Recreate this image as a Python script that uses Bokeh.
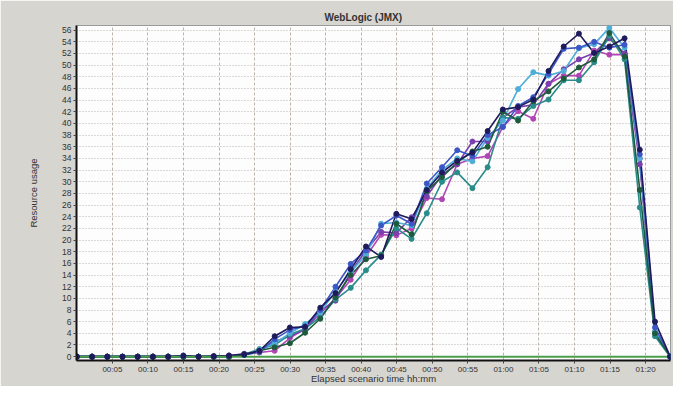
from bokeh.plotting import figure
from bokeh.models import FixedTicker, Range1d
from bokeh.embed import file_html
from bokeh.resources import INLINE

# Elapsed time of each sample, minutes
elapsed_min = [0, 2.14, 4.28, 6.42, 8.56, 10.7, 12.84, 14.98, 17.12, 19.26,
               21.4, 23.54, 25.68, 27.82, 29.96, 32.1, 34.24, 36.38, 38.52, 40.66,
               42.8, 44.94, 47.08, 49.22, 51.36, 53.5, 55.64, 57.78, 59.92, 62.06,
               64.2, 66.34, 68.48, 70.62, 72.76, 74.9, 77.04, 79.18, 81.32, 83.46]

magenta = [0, 0, 0, 0, 0, 0, 0, 0, 0, 0, 0,
           0.4, 0.7, 1.0, 3.2, 4.8, 7.4, 10.0, 13.2, 17.2, 20.9, 20.8, 22.0, 27.2, 27.0,
           33.0, 34.0, 34.4, 39.4, 42.1, 40.8, 46.8, 48.2, 48.2, 52.5, 51.8, 51.8, 34.0, 4.0, 0]
purple = [0, 0, 0, 0, 0, 0, 0, 0, 0, 0,
          0.2, 0.5, 0.9, 2.6, 3.5, 4.6, 7.9, 9.6, 14.5, 18.2, 21.4, 21.2, 23.9, 27.5, 31.2,
          33.0, 36.9, 36.9, 41.0, 42.8, 43.2, 46.8, 49.3, 51.0, 52.1, 54.6, 52.0, 33.0, 4.3, 0]
teal = [0, 0, 0, 0, 0, 0, 0, 0, 0, 0, 0,
        0.4, 1.3, 2.0, 3.8, 4.8, 6.8, 9.8, 11.8, 14.8, 17.5, 22.0, 20.2, 24.6, 30.0,
        31.6, 28.9, 32.5, 41.0, 40.8, 43.0, 44.1, 47.4, 47.4, 50.5, 55.0, 51.0, 25.6, 3.5, 0]
sky = [0, 0, 0, 0, 0, 0, 0, 0, 0, 0, 0,
       0.3, 1.2, 2.3, 4.0, 5.6, 7.6, 11.2, 14.5, 17.5, 22.8, 23.0, 22.5, 28.8, 32.0,
       34.0, 33.5, 37.5, 40.5, 45.9, 48.8, 48.2, 49.0, 52.9, 53.6, 56.4, 53.0, 34.0, 4.3, 0]
blue = [0, 0, 0, 0, 0, 0, 0, 0, 0, 0, 0,
        0.3, 0.8, 3.0, 4.6, 5.2, 8.0, 12.0, 15.9, 18.2, 22.5, 24.2, 22.8, 29.7, 32.5,
        35.4, 34.4, 38.0, 39.4, 43.0, 44.5, 48.5, 52.8, 53.0, 54.0, 53.0, 53.5, 34.7, 5.0, 0]
dark_green = [0, 0, 0, 0, 0, 0, 0, 0, 0, 0, 0,
              0.3, 1.0, 1.6, 2.3, 4.1, 6.5, 10.2, 14.0, 16.7, 17.3, 22.8, 21.0, 28.4, 30.8,
              33.3, 35.2, 36.0, 42.0, 40.5, 43.8, 45.5, 47.7, 49.6, 51.0, 55.5, 51.5, 28.6, 4.0, 0]
navy = [0, 0, 0, 0, 0, 0, 0, 0.2, 0, 0.1,
        0.2, 0.4, 1.0, 3.5, 5.0, 5.1, 8.4, 10.9, 15.0, 18.9, 17.1, 24.5, 23.6, 28.6, 31.6,
        33.6, 35.0, 38.7, 42.4, 42.8, 44.1, 49.0, 53.2, 55.4, 52.1, 53.2, 54.6, 35.5, 6.0, 0]
green_base = [0, 0, 0, 0, 0, 0, 0, 0, 0, 0, 0, 0, 0, 0, 0, 0, 0, 0, 0, 0,
              0, 0, 0, 0, 0, 0, 0, 0, 0, 0, 0, 0, 0, 0, 0, 0, 0, 0, 0, 0]

x_tick_minutes = [5, 10, 15, 20, 25, 30, 35, 40, 45, 50, 55, 60, 65, 70, 75, 80]
x_tick_labels = ["00:05", "00:10", "00:15", "00:20", "00:25", "00:30", "00:35", "00:40",
                 "00:45", "00:50", "00:55", "01:00", "01:05", "01:10", "01:15", "01:20"]
y_ticks = [0, 2, 4, 6, 8, 10, 12, 14, 16, 18, 20, 22, 24, 26, 28, 30, 32, 34, 36, 38,
           40, 42, 44, 46, 48, 50, 52, 54, 56]

series = [
    (magenta, "#b145b5"),
    (purple, "#7a3fae"),
    (teal, "#2a8b8b"),
    (sky, "#4eaed8"),
    (blue, "#3b56c6"),
    (dark_green, "#1e5a3c"),
    (navy, "#1e1a5c"),
]

FONT = "Liberation Sans"

p = figure(width=673, height=386, output_backend="svg", toolbar_location=None,
           x_range=Range1d(-0.05, 83.5), y_range=Range1d(-0.66, 56.8),
           min_border_left=76, min_border_right=3, min_border_top=25, min_border_bottom=24,
           title="WebLogic (JMX)")

p.background_fill_color = "#fdfdfd"
p.border_fill_color = "#d7d5d0"
p.outline_line_color = "#9a9a9a"
p.outline_line_width = 1

p.title.text_font = FONT
p.title.text_font_size = "10px"
p.title.text_font_style = "bold"
p.title.text_color = "#333333"
p.title.align = "left"
p.title.offset = 248
p.title.standoff = 5

p.xaxis.ticker = FixedTicker(ticks=x_tick_minutes)
p.xaxis.major_label_overrides = {m: lab for m, lab in zip(x_tick_minutes, x_tick_labels)}
p.yaxis.ticker = FixedTicker(ticks=y_ticks)

for ax in (p.xaxis, p.yaxis):
    ax.axis_line_color = "#111111"
    ax.axis_line_width = 2
    ax.major_tick_line_color = "#444444"
    ax.major_tick_out = 3
    ax.major_tick_in = 0
    ax.minor_tick_line_color = None
    ax.major_label_text_font = FONT
    ax.major_label_text_color = "#333333"
    ax.axis_label_text_font = FONT
    ax.axis_label_text_font_style = "normal"
    ax.axis_label_text_color = "#333333"
    ax.axis_label_text_font_size = "9.5px"

p.xaxis.major_label_text_font_size = "8px"
p.yaxis.major_label_text_font_size = "8.5px"
p.xaxis.major_label_standoff = 1
p.yaxis.major_label_standoff = 2
p.xaxis.axis_label = "Elapsed scenario time hh:mm"
p.yaxis.axis_label = "Resource usage"
p.xaxis.axis_label_standoff = -4
p.yaxis.axis_label_standoff = 20

p.xgrid.grid_line_color = "#bdb5ac"
p.xgrid.grid_line_dash = "3 2"
p.xgrid.grid_line_width = 1
p.ygrid.grid_line_color = "#b8b2ac"
p.ygrid.grid_line_dash = "1 2"
p.ygrid.grid_line_width = 1

for vals, col in series:
    p.line(elapsed_min, vals, line_color=col, line_width=1.6)

p.line(elapsed_min, green_base, line_color="#4a9e4a", line_width=2)

for vals, col in series:
    p.scatter(elapsed_min, vals, size=5, fill_color=col, line_color=col)

open("out.html", "w").write(file_html(p, INLINE))
